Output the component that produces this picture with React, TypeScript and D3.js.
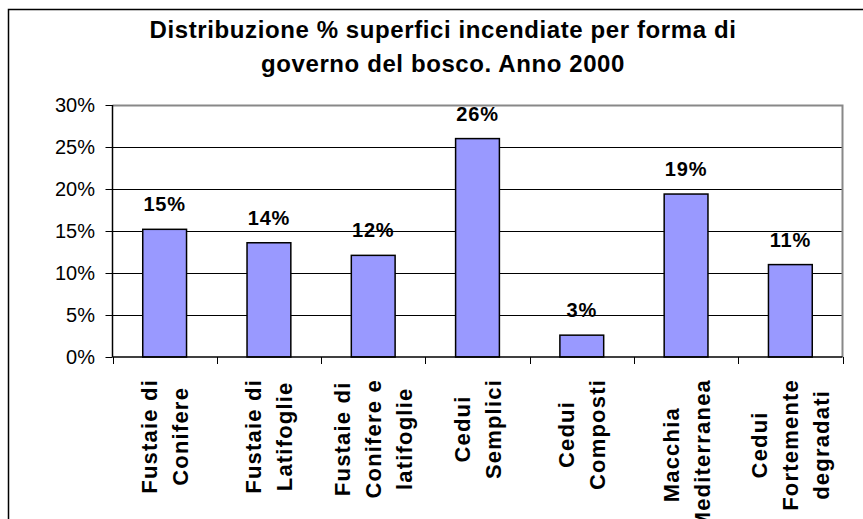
import React, { useEffect, useRef } from "react";
import * as d3 from "d3";

// categories (each label split on its line breaks)
const categories = [
  "Fustaie di\nConifere",
  "Fustaie di\nLatifoglie",
  "Fustaie di\nConifere e\nlatifoglie",
  "Cedui\nSemplici",
  "Cedui\nComposti",
  "Macchia\nMediterranea",
  "Cedui\nFortemente\ndegradati",
];
const shares = [0.152, 0.136, 0.121, 0.26, 0.026, 0.194, 0.11];
const yTicks = [0, 0.05, 0.1, 0.15, 0.2, 0.25, 0.3];
const titleLines = [
  "Distribuzione % superfici incendiate per forma di",
  "governo del bosco. Anno 2000",
];

const FONT = "'Liberation Sans', Arial, sans-serif";

export default function App() {
  const ref = useRef<SVGSVGElement>(null);

  useEffect(() => {
    const width = 863;
    const height = 519;
    const plot = { left: 112.5, right: 842.5, top: 105, bottom: 357 };

    const svg = d3.select(ref.current);
    svg.selectAll("*").remove();
    svg.attr("width", width).attr("height", height);

    // chart frame
    svg.append("rect")
      .attr("x", 8.5).attr("y", 9.5)
      .attr("width", 900).attr("height", 600)
      .attr("fill", "#fff")
      .attr("stroke", "#000")
      .attr("stroke-width", 1.5);

    // title
    svg.append("g")
      .selectAll("text")
      .data(titleLines)
      .enter()
      .append("text")
      .attr("x", 443)
      .attr("y", (d, i) => 38 + i * 34)
      .attr("text-anchor", "middle")
      .style("font-family", FONT)
      .style("font-weight", "bold")
      .style("font-size", "24px")
      .style("letter-spacing", "0.6px")
      .attr("fill", "#000")
      .text(d => d);

    const x = d3.scaleBand()
      .domain(categories)
      .range([plot.left, plot.right])
      .paddingInner(0.58)
      .paddingOuter(0.29);

    const y = d3.scaleLinear()
      .domain([0, 0.3])
      .range([plot.bottom, plot.top]);

    // gridlines
    svg.append("g")
      .selectAll("line")
      .data(yTicks.filter(t => t > 0 && t < 0.3))
      .enter()
      .append("line")
      .attr("x1", plot.left).attr("x2", plot.right)
      .attr("y1", d => Math.round(y(d)) + 0.5)
      .attr("y2", d => Math.round(y(d)) + 0.5)
      .attr("stroke", "#000")
      .attr("stroke-width", 1);

    // plot area border (top / right)
    svg.append("path")
      .attr("d", `M${plot.left},${plot.top + 0.5}H${plot.right}V${plot.bottom}`)
      .attr("fill", "none")
      .attr("stroke", "#888")
      .attr("stroke-width", 2);

    // bars
    svg.append("g")
      .selectAll("rect")
      .data(shares)
      .enter()
      .append("rect")
      .attr("x", (d, i) => x(categories[i]))
      .attr("y", d => y(d))
      .attr("width", x.bandwidth())
      .attr("height", d => y(0) - y(d))
      .attr("fill", "#9999ff")
      .attr("stroke", "#000")
      .attr("stroke-width", 1.5);

    // value labels
    const pct = d3.format(".0%");
    svg.append("g")
      .selectAll("text")
      .data(shares)
      .enter()
      .append("text")
      .attr("x", (d, i) => x(categories[i]) + x.bandwidth() / 2)
      .attr("y", d => y(d) - 18)
      .attr("text-anchor", "middle")
      .style("font-family", FONT)
      .style("font-weight", "bold")
      .style("font-size", "20px")
      .style("letter-spacing", "0.8px")
      .text(d => pct(d));

    // y axis
    const yAxis = svg.append("g");
    yAxis.append("line")
      .attr("x1", plot.left).attr("x2", plot.left)
      .attr("y1", plot.top).attr("y2", plot.bottom)
      .attr("stroke", "#000").attr("stroke-width", 1.5);
    yAxis.selectAll("line.tick")
      .data(yTicks)
      .enter()
      .append("line")
      .attr("class", "tick")
      .attr("x1", plot.left - 7).attr("x2", plot.left)
      .attr("y1", d => Math.round(y(d)) + 0.5)
      .attr("y2", d => Math.round(y(d)) + 0.5)
      .attr("stroke", "#000");
    yAxis.selectAll("text")
      .data(yTicks)
      .enter()
      .append("text")
      .attr("x", 95)
      .attr("y", d => y(d))
      .attr("dy", "0.36em")
      .attr("text-anchor", "end")
      .style("font-family", FONT)
      .style("font-size", "20px")
      .text(d => d3.format(".0%")(d));

    // x axis
    const xAxis = svg.append("g");
    xAxis.append("line")
      .attr("x1", plot.left).attr("x2", plot.right)
      .attr("y1", plot.bottom).attr("y2", plot.bottom)
      .attr("stroke", "#000").attr("stroke-width", 1.5);
    const step = x.step();
    xAxis.selectAll("line.tick")
      .data(d3.range(categories.length + 1))
      .enter()
      .append("line")
      .attr("class", "tick")
      .attr("x1", i => Math.round(plot.left + i * step) + 0.5)
      .attr("x2", i => Math.round(plot.left + i * step) + 0.5)
      .attr("y1", plot.bottom).attr("y2", plot.bottom + 7)
      .attr("stroke", "#000");

    // category labels, rotated, lines centred on the longest line
    const labelTop = 379;
    const lineGap = 31;
    categories.forEach(cat => {
      const lines = cat.split("\n");
      const cx = x(cat) + x.bandwidth() / 2;
      const g = xAxis.append("g");
      const texts = g.selectAll("text")
        .data(lines)
        .enter()
        .append("text")
        .attr("text-anchor", "middle")
        .style("font-family", FONT)
        .style("font-weight", "bold")
        .style("font-size", "22px")
        .style("letter-spacing", "1.2px")
        .text(d => d);
      let maxLen = 0;
      texts.each(function () {
        maxLen = Math.max(maxLen, (this as SVGTextElement).getComputedTextLength());
      });
      const cy = labelTop + maxLen / 2;
      texts.attr("transform", (d, i) => {
        const lx = cx + (i - (lines.length - 1) / 2) * lineGap + 8;
        return `translate(${lx},${cy}) rotate(-90)`;
      });
    });
  }, []);

  return (
    <svg
      ref={ref}
      style={{ position: "absolute", left: 0, top: 0, background: "#fff" }}
    ></svg>
  );
}
